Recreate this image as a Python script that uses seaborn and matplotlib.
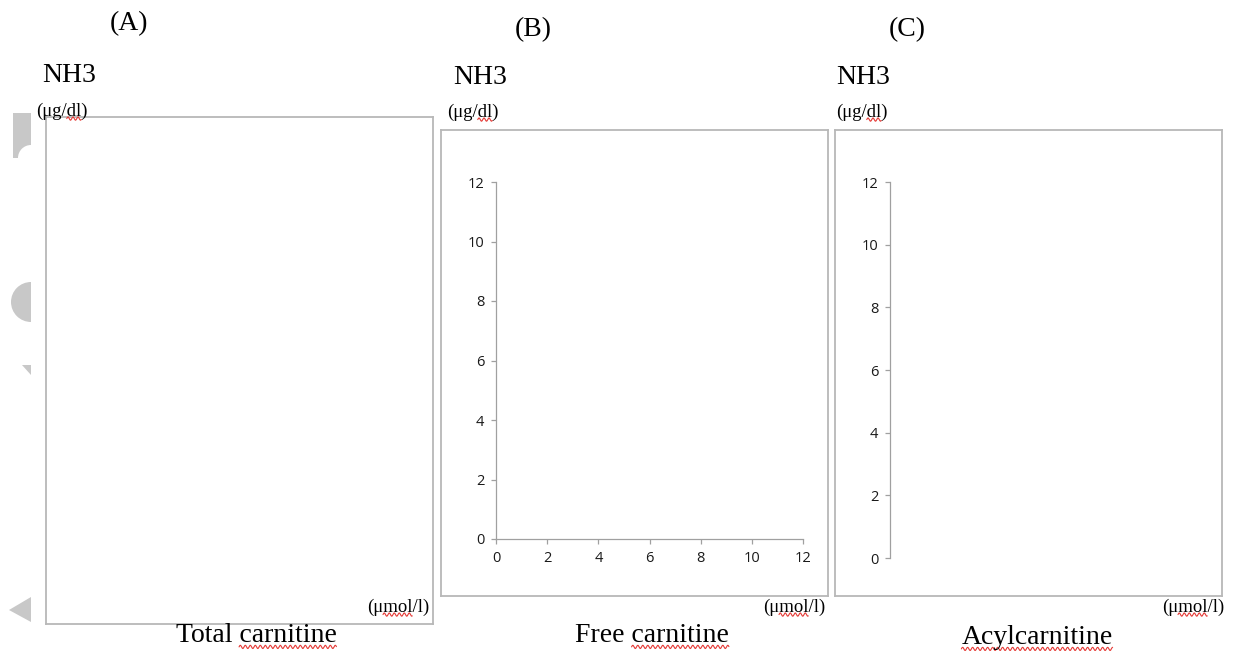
import numpy as np
import seaborn as sns
import matplotlib.pyplot as plt
from matplotlib.patches import Rectangle, Circle, Wedge, Polygon
from matplotlib.lines import Line2D

# Datos del grafico (paneles vacios, solo ejes)
panel_letters = ['(A)', '(B)', '(C)']
y_title = 'NH3'
y_unit = '(μg/dl)'
x_unit = '(μmol/l)'
x_titles = ['Total carnitine', 'Free carnitine', 'Acylcarnitine']
b_xticks = [0, 2, 4, 6, 8, 10, 12]
b_yticks = [0, 2, 4, 6, 8, 10, 12]
c_yticks = [0, 2, 4, 6, 8, 10, 12]

sns.set_style("white")
plt.rcParams['font.family'] = ['Liberation Serif', 'DejaVu Serif']

W, H = 1233, 657
fig = plt.figure(figsize=(W / 100, H / 100), dpi=100)
fig.patch.set_facecolor('white')


def rect(x0, y0, x1, y1):
    return [x0 / W, 1 - y1 / H, (x1 - x0) / W, (y1 - y0) / H]


def fx(x):
    return x / W


def fy(y):
    return 1 - y / H


frame_color = '#b8b8b8'
axis_color = '#a0a0a0'
tick_color = '#1a1a1a'

# marcas grises en el borde izquierdo (restos de la captura)
grey = '#c8c8c8'
deco = fig.add_axes([0, 0, 1, 1], zorder=0)
deco.set_xlim(0, W)
deco.set_ylim(H, 0)
deco.axis('off')
deco.add_patch(Rectangle((13, 113), 18, 45, color=grey, lw=0))
deco.add_patch(Circle((31, 158), 13, color='white', lw=0))
deco.add_patch(Wedge((31, 302), 20, 90, 270, color=grey, lw=0))
deco.add_patch(Polygon([(22, 365), (31, 365), (31, 375)], closed=True, color=grey, lw=0))
deco.add_patch(Polygon([(9, 610), (31, 597), (31, 622)], closed=True, color=grey, lw=0))

# marcos de los tres paneles
frames = [(46, 117, 433, 624), (441, 130, 828, 596), (835, 130, 1222, 596)]
for f in frames:
    fa = fig.add_axes(rect(*f), zorder=1)
    fa.set_xticks([])
    fa.set_yticks([])
    fa.set_facecolor('none')
    for s in fa.spines.values():
        s.set_color(frame_color)
        s.set_linewidth(1.3)

tick_family = 'Open Sans'
tick_size = 10.5


def style_ticks(ax, axis):
    if axis in ('x', 'both'):
        ax.tick_params(axis='x', direction='out', length=3.8, width=0.9,
                       color=axis_color, labelcolor=tick_color, pad=4.5,
                       bottom=True)
    if axis in ('y', 'both'):
        ax.tick_params(axis='y', direction='out', length=3.8, width=0.9,
                       color=axis_color, labelcolor=tick_color, pad=4.5,
                       left=True)
    labs = []
    if axis in ('x', 'both'):
        labs += ax.get_xticklabels()
    if axis in ('y', 'both'):
        labs += ax.get_yticklabels()
    for lab in labs:
        lab.set_fontfamily(tick_family)
        lab.set_fontsize(tick_size)


# panel B: ejes x e y de 0 a 12
ax_b = fig.add_axes(rect(496, 182, 803, 539), zorder=2)
ax_b.set_facecolor('none')
ax_b.set_xlim(min(b_xticks), max(b_xticks))
ax_b.set_ylim(min(b_yticks), max(b_yticks))
ax_b.set_xticks(b_xticks)
ax_b.set_yticks(b_yticks)
sns.despine(ax=ax_b)
for s in ['left', 'bottom']:
    ax_b.spines[s].set_color(axis_color)
    ax_b.spines[s].set_linewidth(0.9)
style_ticks(ax_b, 'both')

# panel C: solo eje y
ax_c = fig.add_axes(rect(890, 182, 1200, 558), zorder=2)
ax_c.set_facecolor('none')
ax_c.set_ylim(min(c_yticks), max(c_yticks))
ax_c.set_yticks(c_yticks)
ax_c.set_xticks([])
sns.despine(ax=ax_c, bottom=True)
ax_c.spines['left'].set_color(axis_color)
ax_c.spines['left'].set_linewidth(0.9)
style_ticks(ax_c, 'y')

# textos
letter_pos = [(129, 24), (533, 30), (907, 30)]
nh3_pos = [(42, 76), (453, 77), (836, 77)]
yunit_pos = [(36, 111), (447, 112), (836, 112)]
xunit_pos = [(429, 607), (825, 607), (1224, 607)]
xtitle_pos = [(256, 636), (652, 636), (1037, 638)]

squiggles = []
for i in range(3):
    fig.text(fx(letter_pos[i][0]), fy(letter_pos[i][1]), panel_letters[i],
             ha='center', va='center', fontsize=20, color='black')
    fig.text(fx(nh3_pos[i][0]), fy(nh3_pos[i][1]), y_title,
             ha='left', va='center', fontsize=20, color='black')
    t = fig.text(fx(yunit_pos[i][0]), fy(yunit_pos[i][1]), y_unit,
                 ha='left', va='center', fontsize=13.5, color='black')
    squiggles.append((t, '(μg/', 'dl', 13.5))
    t = fig.text(fx(xunit_pos[i][0]), fy(xunit_pos[i][1]), x_unit,
                 ha='right', va='center', fontsize=13.5, color='black')
    squiggles.append((t, '(μ', 'mol', 13.5))
    t = fig.text(fx(xtitle_pos[i][0]), fy(xtitle_pos[i][1]), x_titles[i],
                 ha='center', va='center', fontsize=20, color='black')
    if x_titles[i].startswith('Total') or x_titles[i].startswith('Free'):
        pre = x_titles[i].split(' ')[0] + ' '
        squiggles.append((t, pre, 'carnitine', 20))
    else:
        squiggles.append((t, '', x_titles[i], 20))

# subrayado ondulado rojo (corrector ortografico)
fig.canvas.draw()
r = fig.canvas.get_renderer()


def text_width(s, size):
    if not s:
        return 0.0
    tmp = fig.text(0, 0, s, fontsize=size)
    w = tmp.get_window_extent(r).width
    tmp.remove()
    return w


for t, pre, word, size in squiggles:
    bb = t.get_window_extent(r)
    x0 = bb.x0 + text_width(pre, size)
    x1 = x0 + text_width(word, size)
    yb = bb.y0 + size * 0.08
    xs = np.linspace(x0, x1, 300)
    ys = yb + 1.6 * np.sin((xs - x0) / 5.0 * 2 * np.pi)
    fig.add_artist(Line2D(xs / W, ys / H, transform=fig.transFigure,
                          color='#e53935', lw=0.8))

fig.savefig('out.png', dpi=100)
